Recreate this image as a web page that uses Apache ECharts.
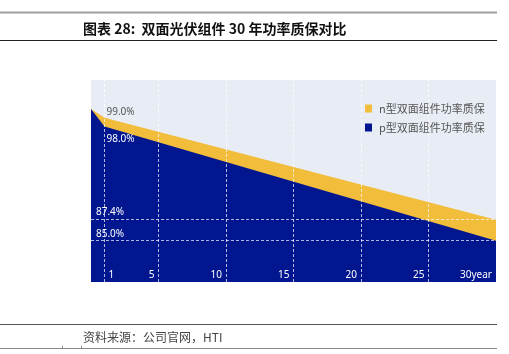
<!DOCTYPE html>
<html>
<head>
<meta charset="utf-8">
<script src="https://cdn.jsdelivr.net/npm/echarts@6/dist/echarts.min.js"></script>
<style>
  html, body { margin: 0; padding: 0; background: #fff; }
  #chart { width: 509px; height: 354px; }
</style>
</head>
<body>
<div id="chart"></div>
<script>
const years = [0, 1, 30];
const nValues = [100, 99.0, 87.4];
const pValues = [100, 98.0, 85.0];
const seriesNames = ['n型双面组件功率质保', 'p型双面组件功率质保'];
const tickYears = [5, 10, 15, 20, 25, 30];
const gridYears = [1, 5, 10, 15, 20, 25];
const refLevels = [87.4, 85.0];

const cjk = '"Noto Sans CJK SC", "Noto Sans", sans-serif';
const latin = '"Noto Sans", "DejaVu Sans", sans-serif';
const yellow = '#f2bd3b';
const blue = '#021690';

function buildData(values, labelCfg) {
  return years.map((y, i) => {
    if (i === 1) {
      return { value: [y, values[i]], label: labelCfg };
    }
    return [y, values[i]];
  });
}

const chart = echarts.init(document.getElementById('chart'));

const xLabelBase = {
  inside: true,
  margin: 2,
  color: '#fff',
  fontSize: 10,
  fontFamily: latin
};

chart.setOption({
  animation: false,
  title: {
    text: '图表 28:  双面光伏组件 30 年功率质保对比',
    left: 78,
    top: 17,
    textStyle: { fontSize: 14, fontWeight: 'bold', color: '#111', fontFamily: cjk }
  },
  graphic: [
    { type: 'line', shape: { x1: 0, y1: 12.5, x2: 497, y2: 12.5 }, style: { stroke: '#a0a0a0', lineWidth: 2 } },
    { type: 'line', shape: { x1: 0, y1: 40.5, x2: 497, y2: 40.5 }, style: { stroke: '#222', lineWidth: 1 } },
    { type: 'line', shape: { x1: 0, y1: 324.5, x2: 497, y2: 324.5 }, style: { stroke: '#555', lineWidth: 1.2 } },
    { type: 'line', shape: { x1: 0, y1: 348.5, x2: 497, y2: 348.5 }, style: { stroke: '#888', lineWidth: 1 } },
    { type: 'line', shape: { x1: 62.5, y1: 346, x2: 62.5, y2: 349 }, style: { stroke: '#888', lineWidth: 1 } },
    { type: 'line', shape: { x1: 81.5, y1: 346, x2: 81.5, y2: 349 }, style: { stroke: '#888', lineWidth: 1 } },
    {
      type: 'text', left: 83, top: 331,
      style: { text: '资料来源：公司官网，HTI', fontSize: 12, fill: '#444', fontFamily: cjk }
    }
  ],
  legend: {
    orient: 'vertical',
    left: 360,
    top: 98,
    itemWidth: 7,
    itemHeight: 8,
    itemGap: 8,
    icon: 'rect',
    data: seriesNames,
    textStyle: { fontSize: 11, color: '#555', fontFamily: cjk, padding: [0, 0, 0, 2] }
  },
  grid: {
    left: 91,
    right: 13,
    top: 80,
    bottom: 72,
    show: true,
    backgroundColor: '#e8ecf4',
    borderWidth: 0
  },
  xAxis: [
    {
      type: 'value',
      min: 0,
      max: 30,
      z: 10,
      axisLine: { show: false },
      axisTick: { show: false },
      splitLine: { show: false },
      axisLabel: Object.assign({}, xLabelBase, {
        customValues: tickYears,
        align: 'right',
        padding: [0, 4, 0, 0],
        formatter: v => (v === 30 ? '30year' : String(v))
      })
    },
    {
      type: 'value',
      min: 0,
      max: 30,
      z: 10,
      position: 'bottom',
      axisLine: { show: false },
      axisTick: { show: false },
      splitLine: { show: false },
      axisLabel: Object.assign({}, xLabelBase, {
        customValues: [1],
        align: 'left',
        padding: [0, 0, 0, 4]
      })
    }
  ],
  yAxis: {
    type: 'value',
    min: 80.3,
    max: 103.3,
    show: false,
    splitLine: { show: false }
  },
  series: [
    {
      name: seriesNames[0],
      type: 'line',
      color: yellow,
      symbol: 'circle',
      symbolSize: 0,
      showSymbol: true,
      lineStyle: { width: 0 },
      areaStyle: { color: yellow, opacity: 1, origin: 'start' },
      data: buildData(nValues, {
        show: true, position: 'right', distance: 2, offset: [0, -6],
        formatter: p => p.value[1].toFixed(1) + '%',
        color: '#555', fontSize: 10, fontFamily: latin
      })
    },
    {
      name: seriesNames[1],
      type: 'line',
      color: blue,
      symbol: 'circle',
      symbolSize: 0,
      showSymbol: true,
      lineStyle: { width: 0 },
      areaStyle: { color: blue, opacity: 1, origin: 'start' },
      data: buildData(pValues, {
        show: true, position: 'right', distance: 2, offset: [0, 13],
        formatter: p => p.value[1].toFixed(1) + '%',
        color: '#fff', fontSize: 10, fontFamily: latin
      }),
      markLine: {
        silent: true,
        symbol: 'none',
        lineStyle: { color: 'rgba(255,255,255,0.7)', type: [3, 2], width: 1 },
        label: { show: false },
        data: gridYears.map(v => ({ xAxis: v })).concat(
          refLevels.map(v => ({
            yAxis: v,
            label: {
              show: true,
              position: 'insideStartTop',
              distance: [5, 2],
              formatter: v.toFixed(1) + '%',
              color: '#fff',
              fontSize: 10,
              fontFamily: latin
            }
          }))
        )
      }
    }
  ]
});
</script>
</body>
</html>
